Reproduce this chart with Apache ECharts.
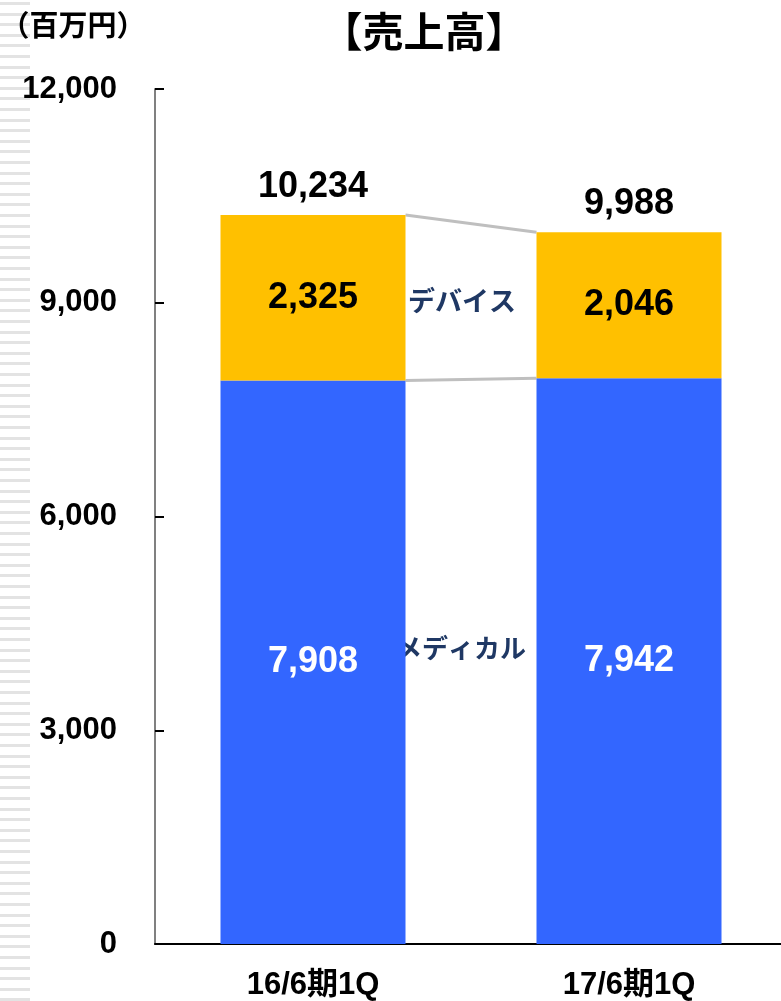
<!DOCTYPE html>
<html>
<head>
<meta charset="utf-8">
<script src="https://cdn.jsdelivr.net/npm/echarts@6/dist/echarts.min.js"></script>
<style>
  html, body { margin: 0; padding: 0; background: #fff; overflow: hidden; }
  #chart { width: 787px; height: 1001px; }
</style>
</head>
<body>
<div id="chart"></div>
<script>
// データ
const categories = ['16/6期1Q', '17/6期1Q']
const medical = [7908, 7942]
const device = [2325, 2046]
const totals = [10234, 9988]
const yTicks = [0, 3000, 6000, 9000, 12000]

const FONT = '"Liberation Sans", "Noto Sans CJK JP", sans-serif'
const BAR_W = 185
const fmt = v => v.toLocaleString('en-US')

const chart = echarts.init(document.getElementById('chart'))

// 左端のストライプ
const stripes = []
for (let y = 2; y < 1001; y += 10.6) {
  stripes.push({
    type: 'rect',
    shape: { x: 0, y: Math.round(y), width: 30, height: 3 },
    style: { fill: '#e3e3e3' },
    silent: true
  })
}

chart.setOption({
  animation: false,
  grid: { left: 155, top: 89, right: 0, bottom: 57 },
  graphic: stripes.concat([
    {
      type: 'text', x: 73, y: 28,
      style: { text: '（百万円）', font: 'bold 29px ' + FONT, fill: '#000', align: 'center', verticalAlign: 'middle' }
    },
    {
      type: 'text', x: 424, y: 36,
      style: { text: '【売上高】', font: 'bold 41px ' + FONT, fill: '#000', align: 'center', verticalAlign: 'middle' }
    },
    {
      type: 'text', x: 462, y: 304,
      style: { text: 'デバイス', font: 'bold 27px ' + FONT, fill: '#1f3864', align: 'center', verticalAlign: 'middle' }
    },
    {
      type: 'text', x: 461, y: 651,
      style: { text: 'メディカル', font: 'bold 26px ' + FONT, fill: '#1f3864', align: 'center', verticalAlign: 'middle' }
    }
  ]),
  xAxis: {
    type: 'category',
    data: categories,
    axisLine: { lineStyle: { color: '#000', width: 2 } },
    axisTick: { inside: true, length: 8, lineStyle: { color: '#808080', width: 2 } },
    axisLabel: { fontSize: 31, fontWeight: 'bold', color: '#000', fontFamily: FONT, margin: 26 }
  },
  yAxis: {
    type: 'value',
    min: yTicks[0],
    max: yTicks[yTicks.length - 1],
    interval: 3000,
    splitLine: { show: false },
    axisLine: { show: true, lineStyle: { color: '#808080', width: 2 } },
    axisTick: { show: true, inside: true, length: 9, lineStyle: { color: '#000', width: 2 } },
    axisLabel: {
      fontSize: 31, fontWeight: 'bold', color: '#000', fontFamily: FONT, margin: 38,
      formatter: fmt
    }
  },
  series: [
    {
      name: 'メディカル',
      type: 'bar',
      stack: 'total',
      barWidth: BAR_W,
      data: medical,
      itemStyle: { color: '#3366ff' },
      label: {
        show: true, position: 'inside', color: '#fff', fontSize: 36, fontWeight: 'bold', fontFamily: FONT,
        formatter: p => fmt(p.value)
      }
    },
    {
      name: 'デバイス',
      type: 'bar',
      stack: 'total',
      barWidth: BAR_W,
      data: device,
      itemStyle: { color: '#ffc000' },
      label: {
        show: true, position: 'inside', color: '#000', fontSize: 36, fontWeight: 'bold', fontFamily: FONT,
        formatter: p => fmt(p.value)
      }
    },
    {
      // 合計ラベル
      name: 'total',
      type: 'custom',
      silent: true,
      data: totals.map((v, i) => [i, v]),
      renderItem: (params, api) => {
        const p = api.coord([api.value(0), api.value(1)])
        return {
          type: 'text',
          x: p[0], y: p[1] - 10,
          style: {
            text: fmt(api.value(1)), font: 'bold 36px ' + FONT, fill: '#000',
            align: 'center', verticalAlign: 'bottom'
          }
        }
      }
    },
    {
      // 棒の間の連結線
      name: 'connector',
      type: 'custom',
      silent: true,
      data: [[0, 0]],
      renderItem: (params, api) => {
        const half = BAR_W / 2
        const levels = [
          [medical[0], medical[1]],
          [medical[0] + device[0], medical[1] + device[1]]
        ]
        const lines = levels.map(lv => {
          const a = api.coord([0, lv[0]])
          const b = api.coord([1, lv[1]])
          return {
            type: 'line',
            shape: { x1: a[0] + half, y1: a[1], x2: b[0] - half, y2: b[1] },
            style: { stroke: '#bfbfbf', lineWidth: 3 }
          }
        })
        return { type: 'group', children: lines }
      }
    }
  ]
})
</script>
</body>
</html>
